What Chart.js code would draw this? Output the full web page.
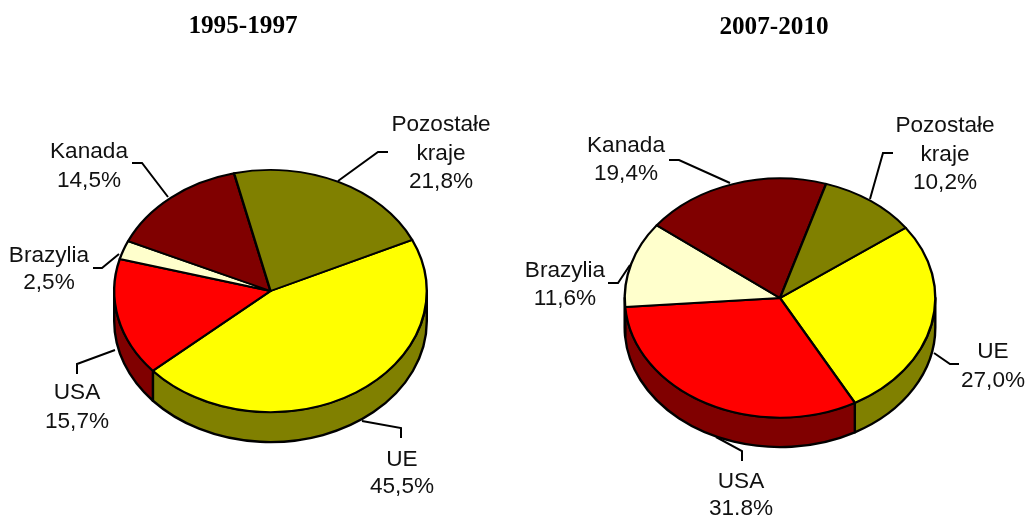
<!DOCTYPE html>
<html><head><meta charset="utf-8">
<style>
html,body{margin:0;padding:0;background:#fff;overflow:hidden}
canvas{position:absolute;top:0}
#c1{left:0}#c2{left:513px}
</style>
<script src="https://cdn.jsdelivr.net/npm/chart.js@4"></script>
</head><body>
<canvas id="c1" width="513" height="515"></canvas>
<canvas id="c2" width="513" height="515"></canvas>
<script>
const categories = ["UE", "USA", "Brazylia", "Kanada", "Pozostałe kraje"];
const values1995 = [45.5, 15.7, 2.5, 14.5, 21.8];
const values2007 = [27.0, 31.8, 11.6, 19.4, 10.2];
const title1995 = "1995-1997";
const title2007 = "2007-2010";
const topColors  = ["#FFFF00", "#FF0000", "#FFFFCC", "#800000", "#808000"];
const sideColors = ["#808000", "#800000", "#808066", "#400000", "#404000"];

const layout1 = {
  offsetX: 0, cx: 270.5, cy: 291, rx: 157.5, ry: 122, depth: 30, rotation: 65, titleX: 243, titleY: 33,
  labelPos: [[402,466],[77,399],[49,262],[89,158],[441,131]],
  labelGap: [27,29,27,28.5,28.5],
  leaders: [[[362,421],[401,428],[401,438]],[[115,350],[77,364],[77,374]],[[119,254],[102,268],[93,268]],[[168,197],[142,163],[132,163]],[[338,181],[378,152],[388,152]]]
};
const layout2 = {
  offsetX: 513, cx: 780, cy: 298, rx: 156.5, ry: 120.5, depth: 29.5, rotation: 54, titleX: 774, titleY: 34,
  labelPos: [[993,358],[741,488],[565,277],[626,152],[945,132]],
  labelGap: [28.5,27,27.5,28,28.5],
  leaders: [[[934,353],[950,364],[959,364]],[[716,437],[742,451],[742,461]],[[630,265],[618,283],[608,283]],[[730,183],[679,160],[669,160]],[[870,199],[883,153],[893,153]]]
};

const pie3d = {
  id: "pie3d",
  beforeDatasetsDraw(chart, args, o) {
    const ctx = chart.ctx, k = o.ry / o.rx;
    const arcs = chart.getDatasetMeta(0).data;
    const TAU = Math.PI * 2;
    arcs.forEach((a, i) => {
      const r = a.outerRadius, x = a.x, y = a.y;
      [0, TAU, -TAU].forEach(shift => {
        const s = Math.max(a.startAngle + shift, 0), e = Math.min(a.endAngle + shift, Math.PI);
        if (e <= s) return;
        ctx.save();
        ctx.beginPath();
        ctx.ellipse(x, y, r, r * k, 0, s, e);
        ctx.ellipse(x, y + o.depth, r, r * k, 0, e, s, true);
        ctx.closePath();
        ctx.fillStyle = sideColors[i];
        ctx.strokeStyle = "#000";
        ctx.lineWidth = 2.4;
        ctx.lineJoin = "round";
        ctx.fill();
        ctx.stroke();
        ctx.restore();
      });
    });
    ctx.save();
    ctx.translate(0, o.cy);
    ctx.scale(1, k);
    ctx.translate(0, -o.cy);
  },
  afterDatasetsDraw(chart, args, o) {
    const ctx = chart.ctx, ox = o.offsetX;
    ctx.restore();
    ctx.save();
    ctx.fillStyle = "#000";
    ctx.textAlign = "center";
    ctx.textBaseline = "alphabetic";
    ctx.font = "bold 25.2px 'Liberation Serif'";
    ctx.fillText(o.title, o.titleX - ox, o.titleY);
    ctx.strokeStyle = "#000";
    ctx.lineWidth = 2;
    o.leaders.forEach(l => {
      ctx.beginPath();
      l.forEach((p, i) => i ? ctx.lineTo(p[0] - ox, p[1]) : ctx.moveTo(p[0] - ox, p[1]));
      ctx.stroke();
    });
    ctx.fillStyle = "#111";
    ctx.font = "22.6px 'Liberation Sans'";
    const vals = chart.data.datasets[0].data;
    chart.data.labels.forEach((name, i) => {
      const lines = (name === "Pozostałe kraje" ? ["Pozostałe", "kraje"] : [name]);
      lines.push(vals[i].toFixed(1).replace(".", ",") + "%");
      const [lx, ly] = o.labelPos[i];
      lines.forEach((t, j) => ctx.fillText(t, lx - ox, ly + j * o.labelGap[i]));
    });
    ctx.restore();
  }
};

function makeChart(id, title, values, g) {
  new Chart(document.getElementById(id), {
    type: "pie",
    data: { labels: categories, datasets: [{
      data: values, backgroundColor: topColors, borderColor: "#000", borderWidth: 2.4,
      borderJoinStyle: "round", clip: false
    }]},
    plugins: [pie3d],
    options: {
      responsive: false, animation: false, events: [],
      rotation: g.rotation,
      layout: { padding: {
        left: g.cx - g.rx - g.offsetX,
        right: 513 - (g.cx + g.rx - g.offsetX),
        top: g.cy - g.rx,
        bottom: 515 - (g.cy + g.rx)
      }},
      plugins: {
        legend: { display: false }, tooltip: { enabled: false }, title: { display: false },
        pie3d: { ...g, title }
      }
    }
  });
}
makeChart("c1", title1995, values1995, layout1);
makeChart("c2", title2007, values2007, layout2);
</script>
</body></html>
